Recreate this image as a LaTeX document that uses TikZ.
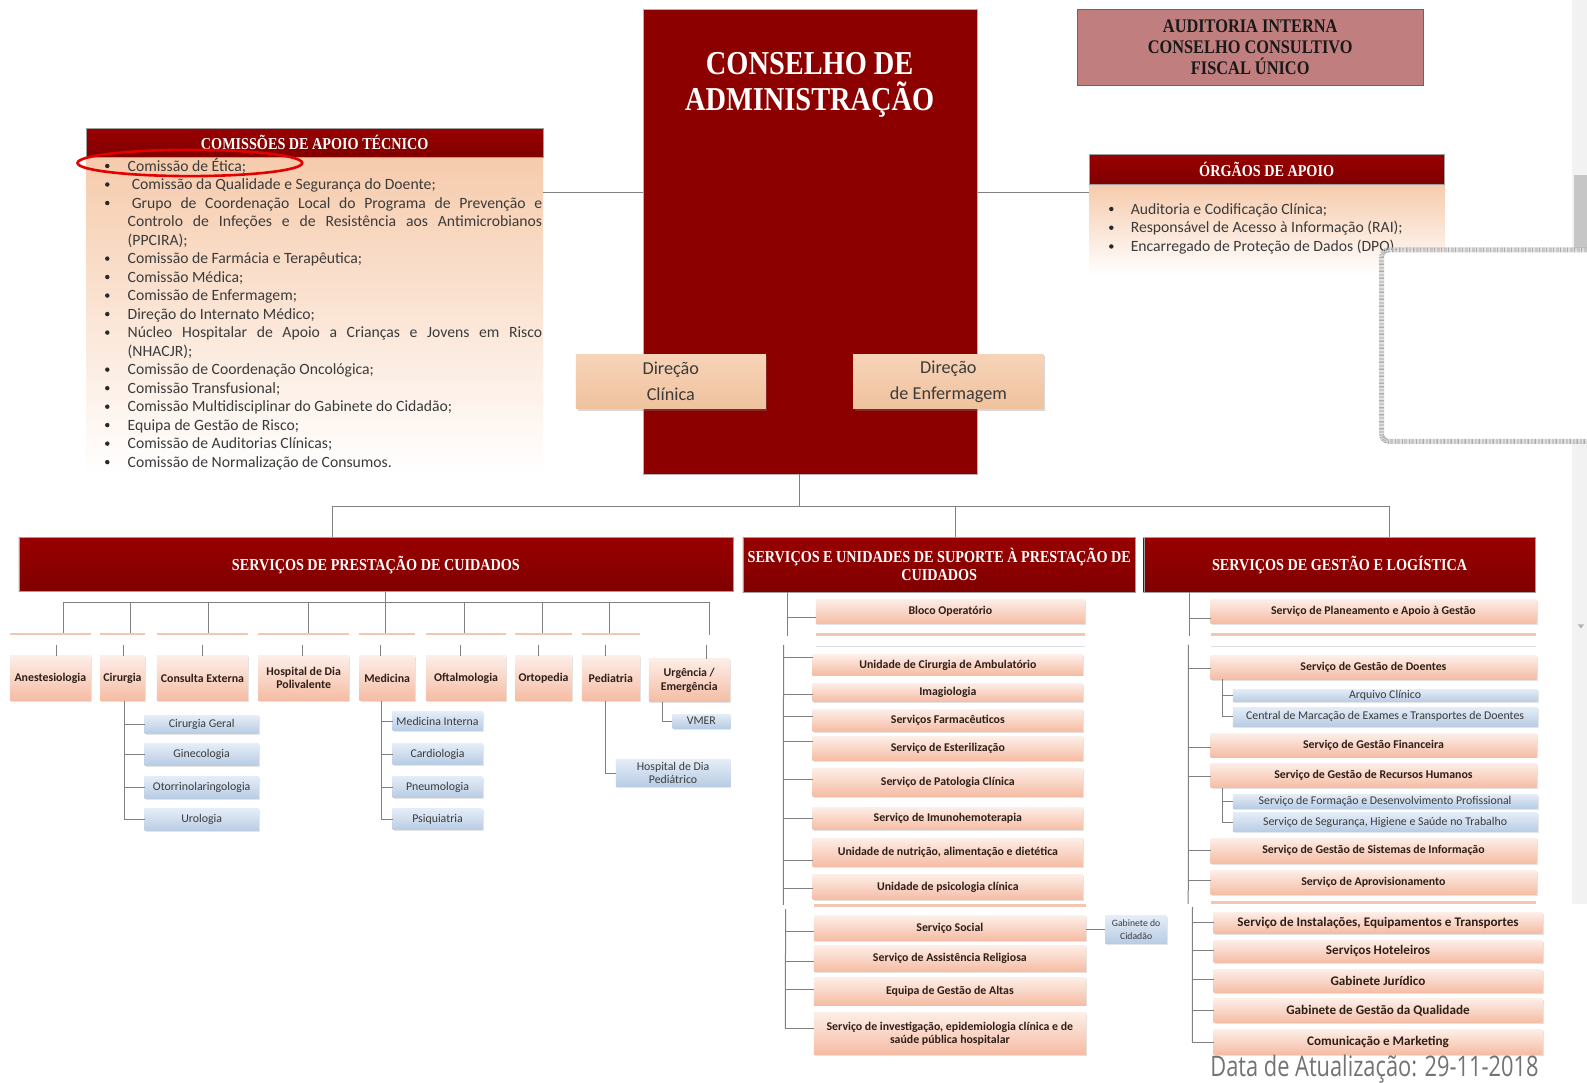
\documentclass[tikz,border=0pt]{standalone}
\usepackage{fontspec}
\usetikzlibrary{shadows}
\setmainfont{Carlito}
\newfontfamily\hdrf[FakeStretch=0.85]{Liberation Serif}
\newfontfamily\calf{Carlito}
\newfontfamily\datef[FakeStretch=0.77]{Open Sans}

\definecolor{deepred}{HTML}{8C0000}
\definecolor{redtop}{HTML}{980000}
\definecolor{redbot}{HTML}{800000}
\definecolor{rose}{HTML}{C07E7E}
\definecolor{peach}{HTML}{F6CBAC}
\definecolor{dirtop}{HTML}{F7D3B8}
\definecolor{dirbot}{HTML}{F0C29E}
\definecolor{pinktop}{HTML}{FDEEE7}
\definecolor{pinkbot}{HTML}{F5BCA4}
\definecolor{bluetop}{HTML}{E4EDF7}
\definecolor{bluebot}{HTML}{B8CCE4}
\definecolor{linec}{HTML}{808080}
\definecolor{txtc}{HTML}{3B3B3B}
\definecolor{boxtxt}{HTML}{2E1F18}
\definecolor{strip}{HTML}{F3C6B2}
\definecolor{ringred}{HTML}{E30000}

% box from two corners: style, name, x1, y1, x2, y2, text
\newcommand\mkbx[7]{\node[#1, minimum width={(#5-#3)*1pt}, minimum height={(#6-#4)*1pt}] (#2) at ({(#3+#5)/2},{(#4+#6)/2}) {#7};}

\tikzset{
  ln/.style={draw=linec, line width=1pt},
  hdr/.style={draw=gray!75, top color=redtop, bottom color=redbot, text=white, align=center, inner sep=0pt,
    font=\hdrf\bfseries\fontsize{16.5}{18}\selectfont},
  pk/.style={inner sep=0pt, top color=pinktop, bottom color=pinkbot, text=boxtxt, align=center,
    font=\calf\bfseries\fontsize{11.7}{13}\selectfont,
    drop shadow={opacity=0.22, shadow xshift=1.2pt, shadow yshift=-1.4pt}},
  pkl/.style={pk, font=\calf\bfseries\fontsize{13}{15}\selectfont},
  bl/.style={inner sep=0pt, top color=bluetop, bottom color=bluebot, text=txtc, align=center,
    font=\calf\fontsize{11.7}{13}\selectfont,
    drop shadow={opacity=0.2, shadow xshift=1.2pt, shadow yshift=-1.4pt}},
  dirbox/.style={inner sep=0pt, top color=dirtop, bottom color=dirbot, text=txtc, align=center,
    font=\calf\fontsize{18}{25.5}\selectfont,
    drop shadow={opacity=0.3, shadow xshift=1.6pt, shadow yshift=-1.6pt}},
  lst/.style={anchor=mid west, inner sep=0pt, text=txtc, font=\calf\fontsize{15.5}{18}\selectfont, yshift=-2.6pt},
  bul/.style={circle, fill=txtc!70!black, inner sep=0pt, minimum size=4.4pt},
  stripe/.style={fill=strip},
}

\begin{document}
\begin{tikzpicture}[x=1pt, y=-1pt, scale=1.012, transform shape]
\useasboundingbox (0,0) rectangle (1568,1070);
\fill[white] (0,0) rectangle (1568,1070);

% scroll bar
\fill[gray!10] (1553,0) rectangle (1568,893);
\fill[gray!45] (1555,173) rectangle (1568,245);
\fill[gray!60] (1559,617) -- (1565,617) -- (1562,621) -- cycle;

% ---------- board ----------
\mkbx{fill=deepred, draw=gray!60, inner sep=0pt}{ca}{635}{9}{965.5}{468.5}{}
\node[text=white, align=center, inner sep=0pt, font=\hdrf\bfseries\fontsize{33}{36}\selectfont] (catitle) at (800,84) {CONSELHO DE\\ADMINISTRAÇÃO};

\mkbx{fill=rose, draw=gray!80!black, inner sep=0pt, align=center, text=black!90,
  font=\hdrf\bfseries\fontsize{19}{21}\selectfont}{aud}{1064.5}{9}{1406}{84}{AUDITORIA INTERNA\\CONSELHO CONSULTIVO\\FISCAL ÚNICO}

\mkbx{dirbox}{dclin}{569}{350}{756.6}{404}{Direção\\Clínica}
\mkbx{dirbox}{denf}{843}{350}{1031}{404}{Direção\\de Enfermagem}

% ---------- technical support committees ----------
\mkbx{top color=peach, bottom color=white, inner sep=0pt}{comb}{85.5}{155.5}{536.5}{468}{}
\mkbx{hdr}{comh}{85.5}{126.8}{536.5}{155.5}{COMISSÕES DE APOIO TÉCNICO}

\node[bul] (cb1) at (106,164) {};
\node[lst] (c1) at (126,164) {Comissão de Ética;};
\node[bul] (cb2) at (106,182.3) {};
\node[lst] (c2) at (130,182.3) {Comissão da Qualidade e Segurança do Doente;};
\node[bul] (cb3) at (106,200.6) {};
\node[lst] (c3) at (130,200.6) {\makebox[405.4pt][s]{Grupo de Coordenação Local do Programa de Prevenção e}};
\node[lst] (c3b) at (126,218.9) {\makebox[409.4pt][s]{Controlo de Infeções e de Resistência aos Antimicrobianos}};
\node[lst] (c3c) at (126,237.2) {(PPCIRA);};
\node[bul] (cb4) at (106,255.5) {};
\node[lst] (c4) at (126,255.5) {Comissão de Farmácia e Terapêutica;};
\node[bul] (cb5) at (106,273.7) {};
\node[lst] (c5) at (126,273.7) {Comissão Médica;};
\node[bul] (cb6) at (106,292) {};
\node[lst] (c6) at (126,292) {Comissão de Enfermagem;};
\node[bul] (cb7) at (106,310.3) {};
\node[lst] (c7) at (126,310.3) {Direção do Internato Médico;};
\node[bul] (cb8) at (106,328.6) {};
\node[lst] (c8) at (126,328.6) {\makebox[409.4pt][s]{Núcleo Hospitalar de Apoio a Crianças e Jovens em Risco}};
\node[lst] (c8b) at (126,346.9) {(NHACJR);};
\node[bul] (cb9) at (106,365.2) {};
\node[lst] (c9) at (126,365.2) {Comissão de Coordenação Oncológica;};
\node[bul] (cb10) at (106,383.5) {};
\node[lst] (c10) at (126,383.5) {Comissão Transfusional;};
\node[bul] (cb11) at (106,401.8) {};
\node[lst] (c11) at (126,401.8) {Comissão Multidisciplinar do Gabinete do Cidadão;};
\node[bul] (cb12) at (106,420) {};
\node[lst] (c12) at (126,420) {Equipa de Gestão de Risco;};
\node[bul] (cb13) at (106,438.3) {};
\node[lst] (c13) at (126,438.3) {Comissão de Auditorias Clínicas;};
\node[bul] (cb14) at (106,456.6) {};
\node[lst] (c14) at (126,456.6) {Comissão de Normalização de Consumos.};

\draw[ringred, line width=2.6pt] (187.6,161) ellipse [x radius=111pt, y radius=13pt];

% ---------- support bodies ----------
\mkbx{top color=peach, bottom color=white, inner sep=0pt}{orgb}{1076}{182}{1427}{272}{}
\mkbx{hdr}{orgh}{1076}{152.5}{1427}{182}{ÓRGÃOS DE APOIO}
\node[bul] (ob1) at (1098,206.5) {};
\node[lst] (o1) at (1117,206.5) {Auditoria e Codificação Clínica;};
\node[bul] (ob2) at (1098,225) {};
\node[lst] (o2) at (1117,225) {Responsável de Acesso à Informação (RAI);};
\node[bul] (ob3) at (1098,243.5) {};
\node[lst] (o3) at (1117,243.5) {Encarregado de Proteção de Dados (DPO).};

% empty frame on the right
\node[draw=gray!65, line width=5pt, dash pattern=on 0.7pt off 0.7pt, rounded corners=7pt, fill=white,
  minimum width=220pt, minimum height=189pt, inner sep=0pt] (frame) at (1475,341.5) {};

\draw[ln] (comb.east |- 0,190) -- (ca.west |- 0,190);
\draw[ln] (ca.east |- 0,190) -- (orgb.west |- 0,190);

% ---------- main distribution ----------
\mkbx{hdr}{spc}{18.7}{531}{724}{584.6}{SERVIÇOS DE PRESTAÇÃO DE CUIDADOS}
\mkbx{hdr}{sup}{734}{531}{1122}{585}{SERVIÇOS E UNIDADES DE SUPORTE À PRESTAÇÃO DE\\CUIDADOS}
\mkbx{hdr}{gl}{1130}{531}{1517}{585}{SERVIÇOS DE GESTÃO E LOGÍSTICA}

\coordinate (busL) at (328,500);
\coordinate (busR) at (1372.5,500);
\draw[ln] (ca.south -| 789.5,0) -- (789.5,500);
\draw[ln] (busL) -- (busR);
\draw[ln] (busL) -- (spc.north -| busL);
\draw[ln] (944.4,500) -- (sup.north -| 944.4,0);
\draw[ln] (busR) -- (gl.north -| busR);

% ---------- care services ----------
\mkbx{pk}{anest}{10}{648}{89.5}{692}{Anestesiologia}
\mkbx{pk}{cir}{99}{648}{143}{692}{Cirurgia}
\mkbx{pk}{cext}{155}{648}{245}{692}{Consulta Externa}
\mkbx{pk}{hdp}{255}{648}{345}{692}{Hospital de Dia\\Polivalente}
\mkbx{pk}{med}{355}{648}{410}{692}{Medicina}
\mkbx{pk}{oft}{421}{648}{500}{692}{Oftalmologia}
\mkbx{pk}{orto}{509}{648}{565}{692}{Ortopedia}
\mkbx{pk}{ped}{575}{648}{632}{692}{Pediatria}
\mkbx{pk}{urg}{641}{651}{721}{693.5}{Urgência /\\Emergência}

\coordinate (cbus) at (381,595);
\draw[ln] (spc.south -| cbus) -- (cbus);
\draw[ln] (63,595) -- (701,595);
\foreach \ux/\tx/\bx in {63/56/anest, 129/122/cir, 206/200/cext, 305/299/hdp, 381/376/med, 459/455/oft, 536/532/orto, 602/598/ped, 701/698/urg}{
  \draw[ln] (\ux,595) -- (\ux,627.5);
  \draw[ln] (\tx,637) -- (\bx.north -| \tx,0);
}
\foreach \bx in {anest,cir,cext,hdp,med,oft,orto,ped}{
  \fill[stripe] (\bx.west |- 0,625.8) rectangle (\bx.east |- 0,627.6);
}

\mkbx{bl}{cg}{143}{707}{255.5}{725}{Cirurgia Geral}
\mkbx{bl}{gin}{143}{735}{255.5}{756}{Ginecologia}
\mkbx{bl}{oto}{143}{767}{255.5}{789}{Otorrinolaringologia}
\mkbx{bl}{uro}{143}{799}{255.5}{821}{Urologia}
\draw[ln] (cir.south -| 122.6,0) |- (uro.west);
\foreach \bx in {cg,gin,oto}{ \draw[ln] (\bx.west -| 122.6,0) -- (\bx.west); }

\mkbx{bl}{mi}{388}{703}{476.6}{722}{Medicina Interna}
\mkbx{bl}{car}{388}{735}{476.6}{755}{Cardiologia}
\mkbx{bl}{pne}{388}{767}{476.6}{788}{Pneumologia}
\mkbx{bl}{psi}{388}{799}{476.6}{820}{Psiquiatria}
\draw[ln] (med.south -| 376.8,0) |- (psi.west);
\foreach \bx in {mi,car,pne}{ \draw[ln] (\bx.west -| 376.8,0) -- (\bx.west); }

\mkbx{bl}{vmer}{664.5}{705.5}{721.5}{719.5}{VMER}
\draw[ln] (urg.south -| 654.7,0) |- (vmer.west);
\mkbx{bl}{hdped}{608.5}{750}{721.5}{777.5}{Hospital de Dia\\Pediátrico}
\draw[ln] (ped.south -| 598,0) |- (hdped.west);

% ---------- support units ----------
\mkbx{pk}{bloco}{806}{592}{1072}{616.5}{Bloco Operatório}
\draw[ln] (sup.south -| 778,0) -- (778,628);
\draw[ln] (778,610) -- (bloco.west |- 0,610);
\fill[stripe] (806,625.8) rectangle (1072,628);
\draw[gray!25, line width=0.8pt] (806,639) -- (1072,639);

\mkbx{pk}{amb}{803}{647}{1070}{667}{Unidade de Cirurgia de Ambulatório}
\mkbx{pk}{img}{803}{675}{1070}{693}{Imagiologia}
\mkbx{pk}{farm}{803}{701}{1070}{723}{Serviços Farmacêuticos}
\mkbx{pk}{est}{803}{728}{1070}{751.6}{Serviço de Esterilização}
\mkbx{pk}{pat}{803}{759}{1070}{786.6}{Serviço de Patologia Clínica}
\mkbx{pk}{imu}{803}{797.6}{1070}{820}{Serviço de Imunohemoterapia}
\mkbx{pk}{nut}{803}{828}{1070}{856.4}{Unidade de nutrição, alimentação e dietética}
\mkbx{pk}{psic}{803}{864}{1070}{889}{Unidade de psicologia clínica}
\coordinate (mt2) at (774,637);
\draw[ln] (mt2) -- (774,894);
\foreach \bx/\by in {amb/650, img/686, farm/708, est/733, pat/770, imu/809, nut/850, psic/878}{
  \draw[ln] (774,\by) -- (\bx.west |- 0,\by);
}
\fill[stripe] (804,893) rectangle (1073,896);

\mkbx{pk}{soc}{804}{905}{1073}{929}{Serviço Social}
\mkbx{pk}{rel}{804}{934}{1073}{960}{Serviço de Assistência Religiosa}
\mkbx{pk}{alt}{804}{966}{1073}{993}{Equipa de Gestão de Altas}
\mkbx{pk}{inv}{804}{1000}{1073}{1042}{Serviço de investigação, epidemiologia clínica e de\\saúde pública hospitalar}
\coordinate (mt3) at (776,898);
\draw[ln] (mt3) -- (776,1016);
\foreach \bx/\by in {soc/920, rel/950, alt/978, inv/1016}{
  \draw[ln] (776,\by) -- (\bx.west |- 0,\by);
}
\mkbx{bl, font=\calf\fontsize{9.6}{12}\selectfont}{gab}{1092}{905}{1153}{932}{Gabinete do\\Cidadão}
\draw[ln] (soc.east |- 0,918) -- (gab.west |- 0,918);

% ---------- management and logistics ----------
\mkbx{pk}{plan}{1196}{592}{1518}{616}{Serviço de Planeamento e Apoio à Gestão}
\draw[ln] (gl.south -| 1175,0) -- (1175,628);
\draw[ln] (1175,611) -- (plan.west |- 0,611);
\fill[stripe] (1196,625.8) rectangle (1518,628);
\draw[gray!25, line width=0.8pt] (1196,639) -- (1518,639);

\mkbx{pk}{doe}{1196}{648}{1518}{671}{Serviço de Gestão de Doentes}
\mkbx{bl}{arq}{1218}{681}{1519}{693.5}{Arquivo Clínico}
\mkbx{bl}{cen}{1218}{699}{1519}{717.5}{Central de Marcação de Exames e Transportes de Doentes}
\mkbx{pk}{fin}{1196}{725}{1518}{748}{Serviço de Gestão Financeira}
\mkbx{pk}{rh}{1196}{754}{1518}{778.5}{Serviço de Gestão de Recursos Humanos}
\mkbx{bl}{form}{1218}{784.6}{1519}{798.6}{Serviço de Formação e Desenvolvimento Profissional}
\mkbx{bl}{seg}{1218}{803}{1519}{822}{Serviço de Segurança, Higiene e Saúde no Trabalho}
\mkbx{pk}{sis}{1196}{828}{1518}{853}{Serviço de Gestão de Sistemas de Informação}
\mkbx{pk}{apr}{1196}{860}{1518}{884}{Serviço de Aprovisionamento}
\coordinate (rt2) at (1174,637);
\draw[ln] (rt2) -- (1174,893);
\foreach \bx/\by in {doe/660, fin/739, rh/767, sis/840, apr/870}{
  \draw[ln] (1174,\by) -- (\bx.west |- 0,\by);
}
\draw[ln] (doe.south -| 1208,0) |- (cen.west);
\draw[ln] (arq.west -| 1208,0) -- (arq.west);
\draw[ln] (rh.south -| 1208,0) |- (seg.west);
\draw[ln] (form.west -| 1208,0) -- (form.west);
\fill[stripe] (1196,890) rectangle (1518,893);

\mkbx{pkl}{ins}{1199}{901.6}{1524}{922}{Serviço de Instalações, Equipamentos e Transportes}
\mkbx{pkl}{hot}{1199}{929}{1524}{951}{Serviços Hoteleiros}
\mkbx{pkl}{jur}{1199}{957.6}{1524}{981}{Gabinete Jurídico}
\mkbx{pkl}{qual}{1199}{987}{1524}{1010.5}{Gabinete de Gestão da Qualidade}
\mkbx{pkl}{com}{1199}{1017}{1524}{1042}{Comunicação e Marketing}
\coordinate (rt3) at (1178,896);
\draw[ln] (rt3) -- (1178,1030);
\foreach \bx/\by in {ins/911, hot/939, jur/968, qual/998, com/1030}{
  \draw[ln] (1178,\by) -- (\bx.west |- 0,\by);
}

\node[anchor=base, inner sep=0pt, text=black!55, font=\datef\fontsize{28}{32}\selectfont] (upd) at (1358,1064) {Data de Atualização: 29-11-2018};
\end{tikzpicture}
\end{document}
